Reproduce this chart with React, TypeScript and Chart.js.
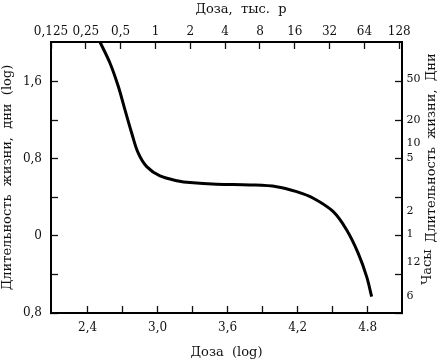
import React, { useEffect, useRef } from "react";
import { Chart, registerables } from "chart.js";

Chart.register(...registerables);

// Curve: log10 of dose (r) vs log10 of survival time (days)
const doseLog = [2.506, 2.592, 2.663, 2.72, 2.778, 2.834, 2.906, 3.02, 3.177, 3.277, 3.506, 3.791, 4.02, 4.191, 4.334, 4.505, 4.62, 4.719, 4.791, 4.834];
const lifeLog = [2.01, 1.79, 1.548, 1.306, 1.064, 0.857, 0.718, 0.621, 0.569, 0.552, 0.535, 0.528, 0.51, 0.458, 0.39, 0.251, 0.061, -0.181, -0.423, -0.631];

// Bottom axis (log dose)
const bottomTickValues = [2.4, 2.7, 3.0, 3.3, 3.6, 3.9, 4.2, 4.5, 4.8];
const bottomTickLabels = ["2,4", "", "3,0", "", "3,6", "", "4,2", "", "4.8"];

// Top axis (dose, thousand r)
const topDoseThousands = [0.125, 0.25, 0.5, 1, 2, 4, 8, 16, 32, 64, 128];
const topTickLabels = ["0,125", "0,25", "0,5", "1", "2", "4", "8", "16", "32", "64", "128"];

// Left axis (log days)
const leftTickValues = [-0.8, -0.4, 0, 0.4, 0.8, 1.2, 1.6];
const leftTickLabels = ["0,8", "", "0", "", "0,8", "", "1,6"];

// Right axis (days / hours), label positions in log units as printed
const rightLabelPositions = [1.627, 1.202, 0.963, 0.808, 0.253, 0.02, -0.271, -0.624];
const rightTickLabels = ["50", "20", "10", "5", "2", "1", "12", "6"];

const FONT = "'DejaVu Serif', 'Liberation Serif', serif";
const INK = "#111";

export default function App() {
  const ref = useRef<HTMLCanvasElement | null>(null);

  useEffect(() => {
    if (!ref.current) return;
    const points = doseLog.map((x, i) => ({ x, y: lifeLog[i] }));

    const rightTicks: { value: number; label: string; mark: boolean }[] = [
      ...leftTickValues.map((v) => ({ value: v, label: "", mark: true })),
      ...rightLabelPositions.map((v, i) => ({ value: v, label: rightTickLabels[i], mark: false })),
    ];

    const tickFont = { family: FONT, size: 12 };
    const titleFont = { family: FONT, size: 13 };
    const grid = {
      drawOnChartArea: false,
      drawTicks: true,
      tickLength: -7,
      tickWidth: 1.3,
      tickColor: INK,
    };
    const border = { display: true, width: 2, color: "#000" };

    const sideTexts = {
      id: "sideTexts",
      afterDraw(chart: any) {
        const { ctx, chartArea } = chart;
        ctx.save();
        ctx.fillStyle = INK;
        ctx.font = `13px ${FONT}`;
        ctx.textAlign = "center";
        ctx.textBaseline = "middle";
        ctx.translate(chartArea.right + 30, chartArea.top + 106);
        ctx.rotate(-Math.PI / 2);
        ctx.fillText("Длительность  жизни,  Дни", 0, 0);
        ctx.restore();
        ctx.save();
        ctx.fillStyle = INK;
        ctx.font = `13px ${FONT}`;
        ctx.textAlign = "center";
        ctx.textBaseline = "middle";
        ctx.translate(chartArea.right + 26, chartArea.top + 225);
        ctx.rotate(-Math.PI / 2);
        ctx.fillText("Часы", 0, 0);
        ctx.restore();
      },
    };

    const chart = new Chart(ref.current, {
      type: "scatter",
      data: {
        datasets: [
          {
            data: points,
            showLine: true,
            borderColor: "#000",
            borderWidth: 3,
            pointRadius: 0,
            tension: 0.35,
            clip: 0,
            xAxisID: "x",
            yAxisID: "y",
          } as any,
        ],
      },
      options: {
        responsive: false,
        animation: false,
        devicePixelRatio: 1,
        layout: { padding: 0 },
        plugins: { legend: { display: false }, tooltip: { enabled: false } },
        scales: {
          x: {
            type: "linear",
            position: "bottom",
            min: 2.086,
            max: 5.094,
            afterBuildTicks: (s: any) => {
              s.ticks = bottomTickValues.map((v) => ({ value: v }));
            },
            afterFit: (s: any) => {
              s.height = 49;
            },
            ticks: {
              autoSkip: false,
              maxRotation: 0,
              padding: 15,
              color: INK,
              font: tickFont,
              callback: (_v: any, i: number) => bottomTickLabels[i],
            },
            grid,
            border,
            title: {
              display: true,
              text: "Доза  (log)",
              color: INK,
              font: titleFont,
              padding: { top: 0, bottom: 2 },
            },
          },
          xTop: {
            type: "linear",
            position: "top",
            min: Math.log10(125),
            max: 5.131,
            afterBuildTicks: (s: any) => {
              s.ticks = topDoseThousands.map((d) => ({ value: Math.log10(d * 1000) }));
            },
            afterFit: (s: any) => {
              s.height = 42;
            },
            ticks: {
              autoSkip: false,
              maxRotation: 0,
              padding: 10,
              color: INK,
              font: tickFont,
              callback: (_v: any, i: number) => topTickLabels[i],
            },
            grid,
            border,
            title: {
              display: true,
              text: "       Доза,  тыс.  р",
              color: INK,
              font: titleFont,
              padding: { top: 2, bottom: 0 },
            },
          },
          y: {
            type: "linear",
            position: "left",
            min: -0.8,
            max: 2.01,
            afterBuildTicks: (s: any) => {
              s.ticks = leftTickValues.map((v) => ({ value: v }));
            },
            afterFit: (s: any) => {
              s.width = 51;
            },
            ticks: {
              autoSkip: false,
              padding: 16,
              color: INK,
              font: tickFont,
              callback: (_v: any, i: number) => leftTickLabels[i],
            },
            grid,
            border,
            title: {
              display: true,
              text: "Длительность  жизни,  дни  (log)",
              color: INK,
              font: titleFont,
              padding: { top: 0, bottom: 0 },
            },
          },
          yRight: {
            type: "linear",
            position: "right",
            min: -0.8,
            max: 2.01,
            afterBuildTicks: (s: any) => {
              s.ticks = rightTicks.map((t) => ({ value: t.value }));
            },
            afterFit: (s: any) => {
              s.width = 45;
            },
            ticks: {
              autoSkip: false,
              padding: 11.5,
              color: INK,
              font: { family: FONT, size: 11 },
              callback: (_v: any, i: number) => rightTicks[i].label,
            },
            grid: {
              ...grid,
              tickColor: (c: any) => (rightTicks[c.index] && rightTicks[c.index].mark ? INK : "rgba(0,0,0,0)"),
            },
            border,
          },
        },
      } as any,
      plugins: [sideTexts],
    });

    return () => chart.destroy();
  }, []);

  return (
    <div style={{ position: "fixed", left: 0, top: 0, width: 447, height: 362, background: "#fff" }}>
      <canvas ref={ref} width={447} height={362} style={{ display: "block" }} />
    </div>
  );
}
